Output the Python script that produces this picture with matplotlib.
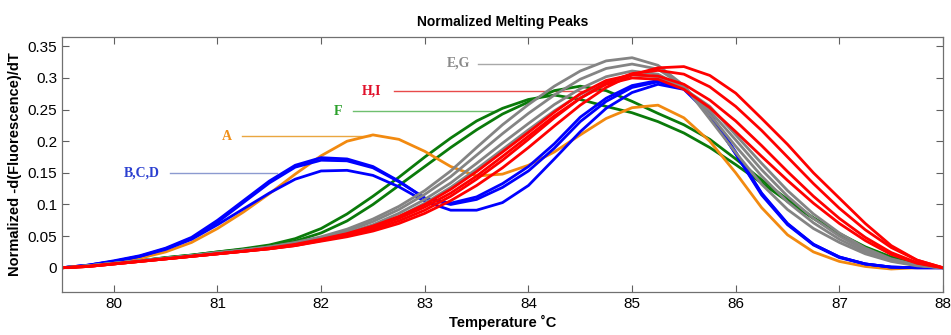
"""
Normalized melting peaks (HRM derivative curves), groups A..I
"""
import numpy as np
import matplotlib.pyplot as plt

plt.rcParams['font.family'] = ['Liberation Sans', 'DejaVu Sans']

# temperature grid, degC
temps = [79.5, 79.75, 80.0, 80.25, 80.5, 80.75, 81.0, 81.25, 81.5, 81.75,
         82.0, 82.25, 82.5, 82.75, 83.0, 83.25, 83.5, 83.75, 84.0, 84.25,
         84.5, 84.75, 85.0, 85.25, 85.5, 85.75, 86.0, 86.25, 86.5, 86.75,
         87.0, 87.25, 87.5, 87.75, 88.0]

# B,C,D (blue)
blue_1 = [0.000, 0.004, 0.011, 0.019, 0.031, 0.048, 0.075, 0.106, 0.137, 0.162,
          0.174, 0.172, 0.160, 0.137, 0.110, 0.102, 0.112, 0.133, 0.160, 0.196,
          0.238, 0.268, 0.288, 0.296, 0.284, 0.242, 0.180, 0.115, 0.068, 0.036,
          0.016, 0.006, 0.001, 0.000, 0.000]
blue_2 = [0.000, 0.004, 0.010, 0.018, 0.030, 0.046, 0.072, 0.103, 0.134, 0.159,
          0.170, 0.169, 0.158, 0.136, 0.110, 0.100, 0.108, 0.127, 0.153, 0.189,
          0.231, 0.263, 0.285, 0.294, 0.284, 0.244, 0.183, 0.118, 0.070, 0.037,
          0.017, 0.006, 0.001, 0.000, 0.000]
blue_3 = [0.000, 0.004, 0.010, 0.018, 0.029, 0.045, 0.068, 0.093, 0.118, 0.140,
          0.153, 0.154, 0.146, 0.128, 0.105, 0.091, 0.091, 0.103, 0.130, 0.172,
          0.215, 0.252, 0.277, 0.290, 0.282, 0.242, 0.180, 0.117, 0.069, 0.037,
          0.017, 0.006, 0.001, 0.000, 0.000]

# A (orange)
orange_1 = [0.000, 0.003, 0.008, 0.015, 0.025, 0.040, 0.062, 0.088, 0.117, 0.148,
            0.177, 0.200, 0.210, 0.203, 0.184, 0.160, 0.145, 0.148, 0.162, 0.183,
            0.210, 0.236, 0.253, 0.257, 0.237, 0.200, 0.150, 0.095, 0.052, 0.025,
            0.010, 0.002, -0.002, 0.000, 0.000]

# F (green)
green_1 = [0.000, 0.003, 0.007, 0.011, 0.016, 0.020, 0.025, 0.030, 0.036, 0.046,
           0.062, 0.085, 0.113, 0.143, 0.175, 0.205, 0.232, 0.252, 0.266, 0.273,
           0.266, 0.255, 0.245, 0.231, 0.213, 0.190, 0.163, 0.134, 0.105, 0.078,
           0.053, 0.032, 0.016, 0.006, 0.000]
green_2 = [0.000, 0.003, 0.007, 0.011, 0.016, 0.020, 0.025, 0.029, 0.034, 0.042,
           0.055, 0.074, 0.100, 0.130, 0.160, 0.190, 0.218, 0.243, 0.262, 0.280,
           0.287, 0.280, 0.263, 0.244, 0.226, 0.203, 0.172, 0.139, 0.108, 0.079,
           0.054, 0.033, 0.017, 0.006, 0.000]

# E,G (gray)
gray_1 = [0.000, 0.003, 0.007, 0.011, 0.015, 0.019, 0.024, 0.028, 0.033, 0.040,
          0.049, 0.061, 0.077, 0.097, 0.122, 0.153, 0.190, 0.226, 0.258, 0.287,
          0.311, 0.327, 0.332, 0.320, 0.288, 0.235, 0.182, 0.132, 0.092, 0.062,
          0.040, 0.022, 0.010, 0.003, 0.000]
gray_2 = [0.000, 0.003, 0.007, 0.011, 0.015, 0.019, 0.024, 0.028, 0.033, 0.039,
          0.047, 0.058, 0.073, 0.092, 0.116, 0.144, 0.178, 0.212, 0.244, 0.273,
          0.298, 0.315, 0.322, 0.314, 0.287, 0.242, 0.192, 0.145, 0.104, 0.071,
          0.045, 0.025, 0.011, 0.004, 0.000]
gray_3 = [0.000, 0.003, 0.007, 0.011, 0.015, 0.019, 0.023, 0.028, 0.032, 0.038,
          0.045, 0.055, 0.068, 0.086, 0.108, 0.134, 0.165, 0.197, 0.228, 0.258,
          0.283, 0.302, 0.311, 0.306, 0.284, 0.248, 0.202, 0.155, 0.113, 0.078,
          0.050, 0.028, 0.013, 0.004, 0.000]
gray_4 = [0.000, 0.003, 0.007, 0.011, 0.015, 0.019, 0.023, 0.027, 0.032, 0.037,
          0.044, 0.053, 0.065, 0.081, 0.102, 0.127, 0.156, 0.187, 0.218, 0.248,
          0.274, 0.294, 0.305, 0.302, 0.283, 0.255, 0.210, 0.165, 0.122, 0.085,
          0.055, 0.031, 0.014, 0.004, 0.000]

# H,I (red)
red_1 = [0.000, 0.002, 0.006, 0.010, 0.014, 0.018, 0.022, 0.026, 0.030, 0.035,
         0.042, 0.049, 0.058, 0.070, 0.086, 0.106, 0.130, 0.158, 0.190, 0.224,
         0.257, 0.285, 0.305, 0.316, 0.318, 0.304, 0.276, 0.236, 0.195, 0.150,
         0.110, 0.070, 0.035, 0.012, 0.000]
red_2 = [0.000, 0.002, 0.006, 0.010, 0.014, 0.018, 0.022, 0.026, 0.030, 0.035,
         0.043, 0.051, 0.061, 0.074, 0.091, 0.113, 0.140, 0.170, 0.203, 0.237,
         0.268, 0.292, 0.307, 0.312, 0.306, 0.286, 0.255, 0.217, 0.175, 0.133,
         0.094, 0.060, 0.032, 0.012, 0.000]
red_3 = [0.000, 0.002, 0.006, 0.010, 0.014, 0.018, 0.022, 0.026, 0.031, 0.037,
         0.045, 0.054, 0.066, 0.081, 0.100, 0.124, 0.152, 0.183, 0.214, 0.246,
         0.275, 0.296, 0.305, 0.303, 0.290, 0.265, 0.232, 0.193, 0.152, 0.113,
         0.078, 0.048, 0.024, 0.008, 0.000]
red_4 = [0.000, 0.002, 0.006, 0.010, 0.014, 0.018, 0.022, 0.026, 0.030, 0.036,
         0.044, 0.053, 0.064, 0.078, 0.096, 0.118, 0.145, 0.176, 0.208, 0.240,
         0.268, 0.290, 0.300, 0.298, 0.282, 0.253, 0.215, 0.176, 0.138, 0.102,
         0.070, 0.043, 0.021, 0.007, 0.000]

# group labels: text, text position, pointer line start/end (T, value)
labels = ['B,C,D', 'A', 'F', 'H,I', 'E,G']
label_xy = [(80.10, 0.149), (81.04, 0.208), (82.12, 0.247), (82.39, 0.279), (83.21, 0.323)]
line_x = [(80.54, 81.57), (81.24, 82.47), (82.31, 83.70), (82.70, 84.69), (83.51, 84.63)]
line_y = [0.1495, 0.208, 0.247, 0.2787, 0.3226]

c_blue = '#0000ff'
c_orange = '#f28a10'
c_green = '#0a7a0a'
c_gray = '#848484'
c_red = '#ff0000'
label_colors = ['#2b3fd0', '#f0901a', '#2aa02a', '#e0102a', '#8a8a8a']
line_colors = ['#8c9ad0', '#eaa640', '#6fbf6f', '#e84a4a', '#a8a8a8']

fig, ax = plt.subplots(figsize=(9.51, 3.35), dpi=100)
fig.subplots_adjust(left=0.0652, right=0.9916, bottom=0.129, top=0.89)

# label pointer lines go under the curves
for (x0, x1), y, lc in zip(line_x, line_y, line_colors):
    ax.plot([x0, x1], [y, y], color=lc, lw=1.0, zorder=1)

groups = [
    ([green_1, green_2], c_green),
    ([orange_1], c_orange),
    ([blue_1, blue_2, blue_3], c_blue),
    ([gray_1, gray_2, gray_3, gray_4], c_gray),
    ([red_1, red_2, red_3, red_4], c_red),
]
for curves, col in groups:
    for y in curves:
        ax.plot(temps, y, color=col, lw=2.0, zorder=2,
                solid_joinstyle='round', solid_capstyle='round')

for txt, (tx, ty), col in zip(labels, label_xy, label_colors):
    ax.text(tx, ty, txt, color=col, fontsize=10, fontweight='bold',
            family='Liberation Serif', ha='left', va='center')

ax.set_xlim(79.5, 88)
ax.set_ylim(-0.038, 0.365)
ax.set_xticks(np.arange(80, 89, 1))
ax.set_xticklabels([str(t) for t in range(80, 89)])
ax.set_yticks([0, 0.05, 0.1, 0.15, 0.2, 0.25, 0.3, 0.35])
ax.set_yticklabels(['0', '0.05', '0.1', '0.15', '0.2', '0.25', '0.3', '0.35'])
ax.tick_params(direction='in', top=True, right=True, length=5, width=0.8,
               color='#606060', labelsize=11)
for s in ax.spines.values():
    s.set_color('#707070')
    s.set_linewidth(0.9)

ax.set_title('Normalized Melting Peaks', fontsize=10, fontweight='bold', pad=8)
ax.set_xlabel('Temperature \u02daC', fontsize=10.5, fontweight='bold', labelpad=3)
ax.set_ylabel('Normalized -d(Fluorescence)/dT', fontsize=10.5, fontweight='bold', labelpad=4)

plt.savefig('out.png', dpi=100)
